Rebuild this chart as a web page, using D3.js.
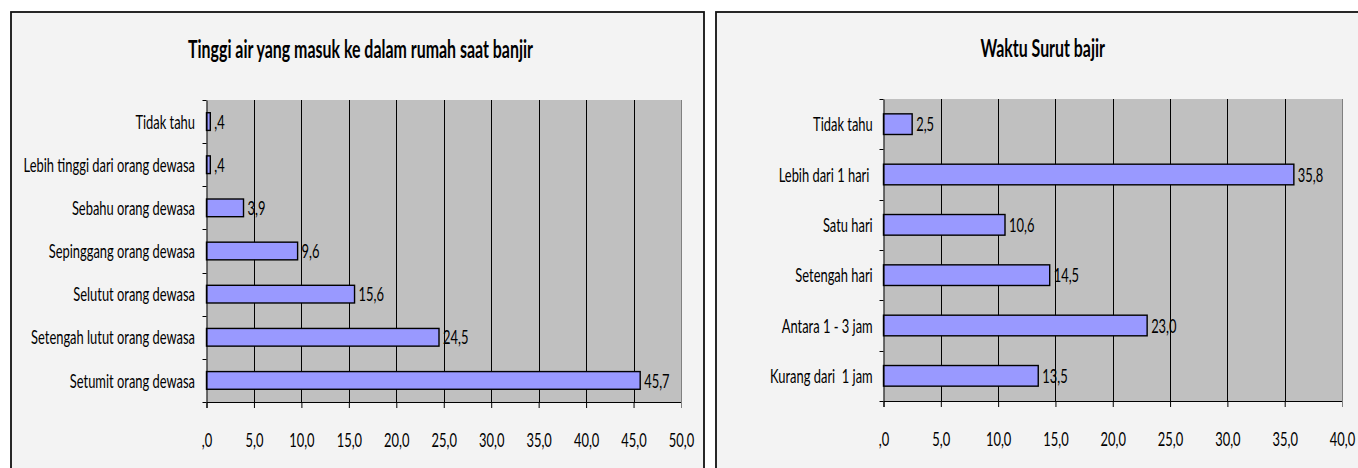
<!DOCTYPE html>
<html><head><meta charset="utf-8">
<script src="https://cdn.jsdelivr.net/npm/d3@7"></script>
<style>
body{margin:0;background:#fff;}
svg{display:block;}
text{font-family:Lato,'Open Sans',sans-serif;fill:#000;white-space:pre;}
</style>
</head><body>
<svg id="c" width="1358" height="468"></svg>
<script>
// ---- data ----
const heightTitle = "Tinggi air yang masuk ke dalam rumah saat banjir";
const heightCategories = ["Tidak tahu","Lebih tinggi dari orang dewasa","Sebahu orang dewasa","Sepinggang orang dewasa","Selutut orang dewasa","Setengah lutut orang dewasa","Setumit orang dewasa"];
const heightValues = [0.4, 0.4, 3.9, 9.6, 15.6, 24.5, 45.7];
const heightTicks = [0,5,10,15,20,25,30,35,40,45,50];

const recedeTitle = "Waktu Surut bajir";
const recedeCategories = ["Tidak tahu","Lebih dari 1 hari ","Satu hari","Setengah hari","Antara 1 - 3 jam","Kurang dari  1 jam"];
const recedeValues = [2.5, 35.8, 10.6, 14.5, 23.0, 13.5];
const recedeTicks = [0,5,10,15,20,25,30,35,40];

// ---- style ----
const LABEL_SIZE = 20, TITLE_SIZE = 25;
const svg = d3.select("#c");

function natural(str, size, weight){
  const t = svg.append("text").style("font-size", size+"px").style("font-weight", weight).text(str);
  const w = t.node().getComputedTextLength(); t.remove(); return w;
}
const SX = 171.5 / natural("Lebih tinggi dari orang dewasa", LABEL_SIZE, 400);
const SXT = 345 / natural(heightTitle, TITLE_SIZE, 700);

function fmt(v){
  let s = d3.format(".1f")(v).replace(".", ",");
  if (s.startsWith("0,")) s = s.slice(1);
  return s;
}

function drawPanel(cfg){
  const g = svg.append("g");
  g.append("rect").attr("x", cfg.panel.x).attr("y", cfg.panel.y)
    .attr("width", cfg.panel.w).attr("height", cfg.panel.h)
    .attr("fill", "#f3f3f3").attr("stroke", "#111").attr("stroke-width", 1.8);

  g.append("text")
    .attr("transform", `translate(${cfg.titleX},${cfg.titleY}) scale(${SXT},1)`)
    .attr("text-anchor", "middle")
    .style("font-size", TITLE_SIZE+"px").style("font-weight", 700)
    .text(cfg.title);

  const x = d3.scaleLinear().domain([0, cfg.max]).range([cfg.plot.x0, cfg.plot.x1]);
  const y = d3.scaleBand().domain(cfg.cats).range([cfg.plot.y0, cfg.plot.y1]).padding(0);

  g.append("rect").attr("x", cfg.plot.x0).attr("y", cfg.plot.y0)
    .attr("width", cfg.plot.x1 - cfg.plot.x0).attr("height", cfg.plot.y1 - cfg.plot.y0)
    .attr("fill", "#c0c0c0");

  g.append("g").selectAll("line").data(cfg.ticks.filter(t => t > 0)).join("line")
    .attr("x1", d => Math.round(x(d)) + 0.5).attr("x2", d => Math.round(x(d)) + 0.5)
    .attr("y1", cfg.plot.y0).attr("y2", cfg.plot.y1)
    .attr("stroke", d => d === cfg.max ? "#808080" : "#000").attr("stroke-width", 1);

  const bh = y.bandwidth() * 0.41;
  g.append("g").selectAll("rect").data(cfg.cats).join("rect")
    .attr("x", x(0))
    .attr("y", (d) => y(d) + (y.bandwidth() - bh) / 2)
    .attr("width", (d, i) => x(cfg.vals[i]) - x(0))
    .attr("height", bh)
    .attr("fill", "#9999ff").attr("stroke", "#000").attr("stroke-width", 1.4);

  g.append("g").selectAll("text").data(cfg.cats).join("text")
    .attr("transform", (d, i) => `translate(${x(cfg.vals[i]) + 4},${y(d) + y.bandwidth()/2}) scale(${SX},1)`)
    .attr("dy", "0.36em")
    .style("font-size", LABEL_SIZE+"px")
    .text((d, i) => fmt(cfg.vals[i]));

  const xa = g.append("g").attr("transform", `translate(0,${cfg.plot.y1})`)
    .call(d3.axisBottom(x).tickValues(cfg.ticks).tickFormat(fmt).tickSize(6).tickSizeOuter(6).tickPadding(25));
  xa.select(".domain").attr("stroke", "#000");
  xa.selectAll(".tick line").attr("stroke", (d) => d === cfg.max ? "#808080" : "#000");
  xa.selectAll("text").attr("font-family", null).attr("font-size", null)
    .style("font-size", LABEL_SIZE+"px").attr("fill", "#000")
    .attr("transform", `scale(${SX},1)`);

  const pad = cfg.labelPad;
  const ya = g.append("g").attr("transform", `translate(${cfg.plot.x0},0)`)
    .call(d3.axisLeft(y).tickSize(0).tickSizeOuter(0).tickPadding(pad));
  ya.select(".domain").attr("stroke", "#000");
  ya.selectAll("text").attr("font-family", null).attr("font-size", null)
    .style("font-size", LABEL_SIZE+"px").attr("fill", "#000")
    .attr("x", -pad / SX).attr("dy", "0.36em")
    .attr("transform", `scale(${SX},1)`);

  const bounds = cfg.cats.map(c => y(c)).concat([cfg.plot.y1]);
  g.append("g").selectAll("line").data(bounds).join("line")
    .attr("x1", cfg.plot.x0 - 4).attr("x2", cfg.plot.x0)
    .attr("y1", d => Math.round(d) + 0.5).attr("y2", d => Math.round(d) + 0.5)
    .attr("stroke", "#000");
}

drawPanel({
  panel: {x: 11, y: 12, w: 693, h: 470},
  plot: {x0: 206.5, x1: 681, y0: 100, y1: 402},
  title: heightTitle, titleX: 360.5, titleY: 58,
  cats: heightCategories, vals: heightValues, ticks: heightTicks, max: 50,
  labelPad: 11.5
});
drawPanel({
  panel: {x: 716, y: 12, w: 660, h: 470},
  plot: {x0: 883.5, x1: 1342, y0: 99, y1: 401},
  title: recedeTitle, titleX: 1042.7, titleY: 57,
  cats: recedeCategories, vals: recedeValues, ticks: recedeTicks, max: 40,
  labelPad: 10.8
});
</script>
</body></html>
